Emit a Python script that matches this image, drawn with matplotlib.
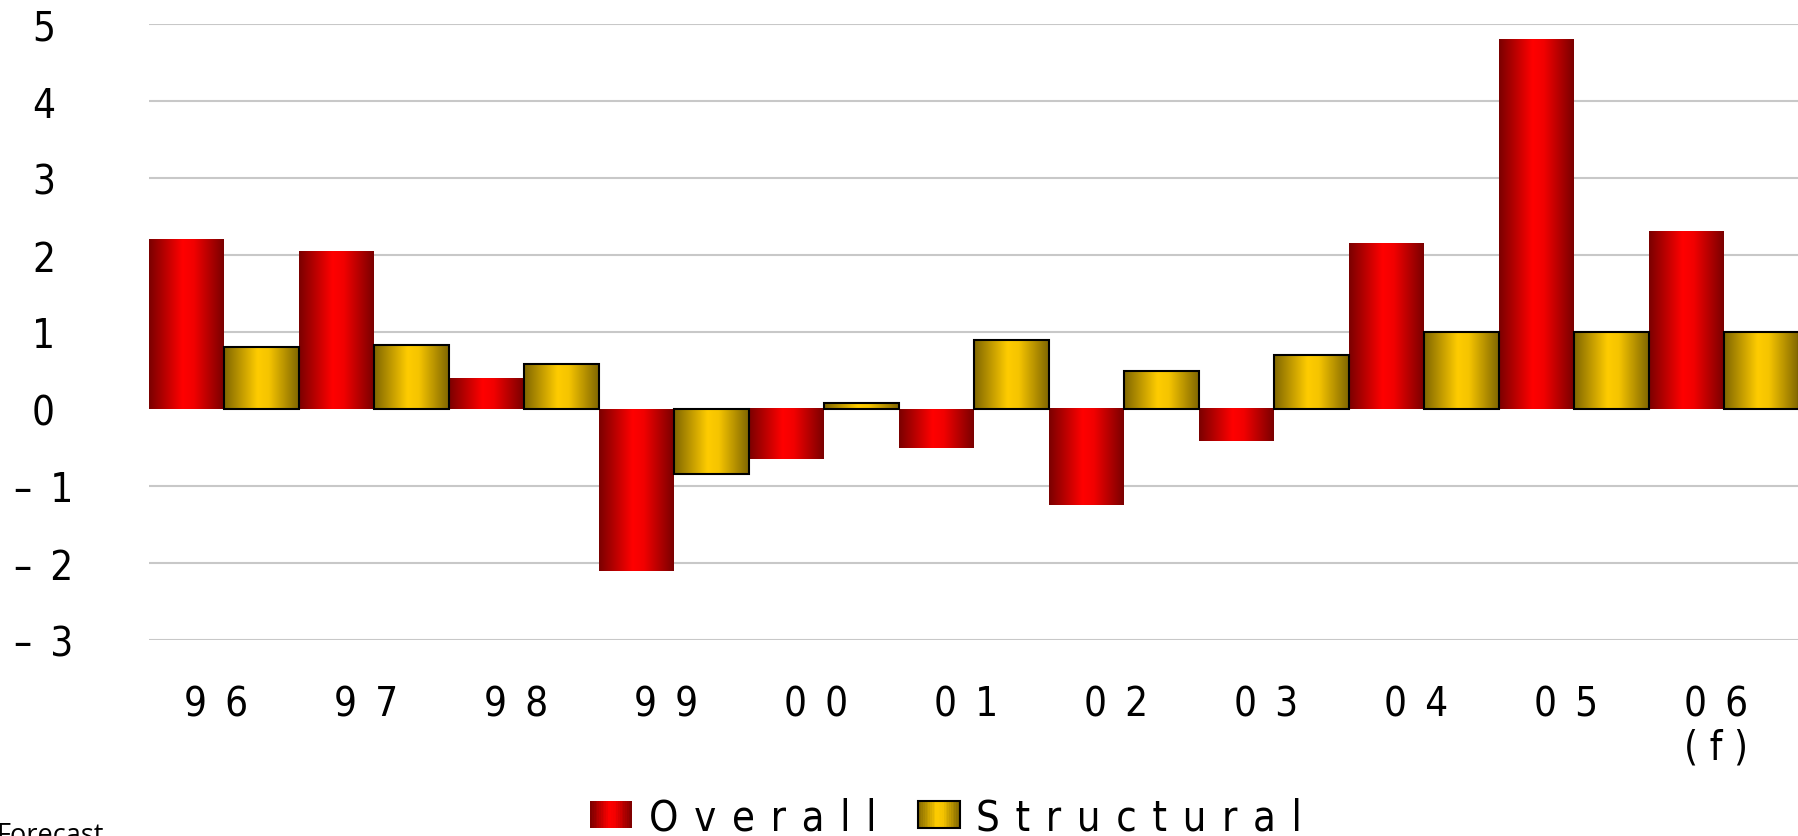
import numpy as np
import matplotlib
matplotlib.use('Agg')
import matplotlib.pyplot as plt
import matplotlib.transforms as mtransforms
from matplotlib.colors import LinearSegmentedColormap
from matplotlib.patches import Rectangle
from matplotlib.legend_handler import HandlerBase
from matplotlib.font_manager import FontProperties

# data (labels are letter-spaced like the original)
years = ['9\u20026', '9\u20027', '9\u20028', '9\u20029', '0\u20020', '0\u20021',
         '0\u20022', '0\u20023', '0\u20024', '0\u20025', '0\u20026\n( f )']
overall = [2.2, 2.05, 0.4, -2.1, -0.65, -0.5, -1.25, -0.42, 2.15, 4.8, 2.3]
structural = [0.8, 0.83, 0.58, -0.85, 0.08, 0.9, 0.5, 0.7, 1.0, 1.0, 1.0]
yticks = [-3, -2, -1, 0, 1, 2, 3, 4, 5]
ylabels = ['–\u20023', '–\u20022', '–\u20021', '0', '1', '2', '3', '4', '5']
series = ['O \u200av \u200ae \u200ar \u200aa \u200al \u200al',
          'S \u200at \u200ar \u200au \u200ac \u200at \u200au \u200ar \u200aa \u200al']

fp = FontProperties(family='DejaVu Sans', stretch='condensed', size=29)
fp_leg = FontProperties(family='DejaVu Sans', stretch='condensed', size=30)

red_cmap = LinearSegmentedColormap.from_list(
    'red', [(0, '#7a0000'), (0.45, '#ff0000'), (0.6, '#f20000'), (1, '#7a0000')])
gold_cmap = LinearSegmentedColormap.from_list(
    'gold', [(0, '#806600'), (0.45, '#ffcc00'), (0.6, '#f5c400'), (1, '#806600')])


class GradHandler(HandlerBase):
    def __init__(self, cmap, edge):
        super().__init__()
        self.cmap = cmap
        self.edge = edge

    def create_artists(self, legend, orig_handle, xdescent, ydescent,
                       width, height, fontsize, trans):
        n = 24
        arts = []
        for k in range(n):
            arts.append(Rectangle((-xdescent + width * k / n, -ydescent), width / n * 1.1, height,
                                  facecolor=self.cmap((k + 0.5) / n), edgecolor='none',
                                  transform=trans))
        if self.edge:
            arts.append(Rectangle((-xdescent, -ydescent), width, height, facecolor='none',
                                  edgecolor='black', lw=1.5, transform=trans))
        return arts


W, H = 1799, 837
fig = plt.figure(figsize=(W / 100, H / 100), dpi=100)
ax = fig.add_axes([149 / W, (H - 641) / H, (W - 149) / W, (641 - 25) / H])

x = np.arange(len(years))
bw = 0.5
b1 = ax.bar(x - bw / 2, overall, bw, facecolor='none', edgecolor='none', zorder=3)
b2 = ax.bar(x + bw / 2, structural, bw, facecolor='none', edgecolor='black', lw=1.5, zorder=3)

grad = np.linspace(0, 1, 256).reshape(1, -1)
for bars, cm in [(b1, red_cmap), (b2, gold_cmap)]:
    for b in bars:
        bx, by, w, h = b.get_x(), b.get_y(), b.get_width(), b.get_height()
        ax.imshow(grad, cmap=cm, aspect='auto', extent=[bx, bx + w, by, by + h],
                  origin='lower', interpolation='bilinear', zorder=2)

ax.set_xlim(-0.5, len(years) - 0.5)
ax.set_ylim(-3, 5)
ax.set_yticks(yticks)
ax.set_yticklabels(ylabels)
ax.set_xticks(x)
ax.set_xticklabels(years, linespacing=1.1)
ax.yaxis.grid(True, color='#c8c8c8', lw=1.5)
ax.set_axisbelow(True)
for gl, t in zip(ax.get_ygridlines(), yticks):
    if t == 0:
        gl.set_visible(False)
for s in ax.spines.values():
    s.set_visible(False)
ax.tick_params(axis='both', length=0)
ax.tick_params(axis='x', pad=32)
ax.tick_params(axis='y', pad=76)
for lab in ax.get_yticklabels():
    lab.set_fontproperties(fp)
    lab.set_horizontalalignment('center')
shift = mtransforms.ScaledTranslation(-0.08, 0, fig.dpi_scale_trans)
for lab in ax.get_xticklabels():
    lab.set_fontproperties(fp)
    lab.set_verticalalignment('top')
    lab.set_transform(lab.get_transform() + shift)

fig.legend(handles=[b1, b2], labels=series,
           handler_map={b1: GradHandler(red_cmap, False), b2: GradHandler(gold_cmap, True)},
           loc='center', bbox_to_anchor=(0.526, 0.022), ncol=2, frameon=False,
           prop=fp_leg, handlelength=1.0, handleheight=0.62,
           handletextpad=0.4, columnspacing=1.0)

fig.text(-0.002, 1 - 822 / H, 'Forecast', family='Open Sans', fontsize=19.5, va='top', ha='left')

fig.savefig('out.png', dpi=100)
